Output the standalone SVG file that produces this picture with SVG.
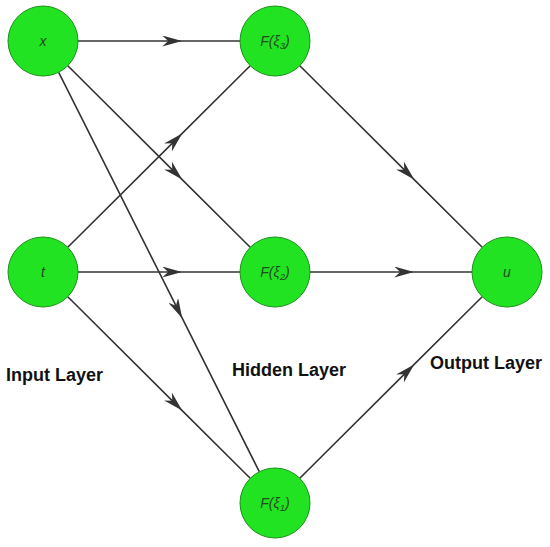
<svg xmlns="http://www.w3.org/2000/svg" width="550" height="547" viewBox="0 0 550 547">
<style>
.node{fill:#22e322;stroke:#1c8f1c;stroke-width:1}
.lbl{font-family:"Liberation Sans",Arial,sans-serif;font-style:italic;font-size:14px;fill:#1f4d1f;text-anchor:middle}
.sub{font-size:9.5px}
.edge{fill:none;stroke:#333;stroke-width:1.6;marker-mid:url(#arr)}
.layer{font-family:"Liberation Sans",Arial,sans-serif;font-weight:bold;font-size:18px;fill:#111}
</style>
<defs>
<marker id="arr" viewBox="0 0 20 11" refX="20" refY="5.5" markerWidth="20" markerHeight="11" markerUnits="userSpaceOnUse" orient="auto">
<path d="M0,0 L20,5.5 L0,11 L6,5.5 z" fill="#333"/>
</marker>
</defs>
<g id="connectors">
<path class="edge" d="M78,41 L182.2,41 L240,41"/>
<path class="edge" d="M67.8,65.7 L182.2,179.6 L250.2,247.3"/>
<path class="edge" d="M58.7,72.3 L182.2,318.2 L259.3,471.7"/>
<path class="edge" d="M67.8,247.3 L182.2,133.4 L250.2,65.7"/>
<path class="edge" d="M78,272 L182.2,272 L240,272"/>
<path class="edge" d="M67.8,296.7 L182.2,410.6 L250.2,478.3"/>
<path class="edge" d="M299.8,65.7 L414.2,179.6 L482.2,247.3"/>
<path class="edge" d="M310,272 L414.2,272 L472,272"/>
<path class="edge" d="M299.8,478.3 L414.2,364.4 L482.2,296.7"/>
</g>
<g id="node-x"><circle class="node" cx="43" cy="41" r="35"/><text class="lbl" x="43" y="46">x</text></g>
<g id="node-F3"><circle class="node" cx="275" cy="41" r="35"/><text class="lbl" x="275" y="46">F(ξ<tspan class="sub" dy="3">3</tspan><tspan dy="-3">)</tspan></text></g>
<g id="node-t"><circle class="node" cx="43" cy="272" r="35"/><text class="lbl" x="43" y="277">t</text></g>
<g id="node-F2"><circle class="node" cx="275" cy="272" r="35"/><text class="lbl" x="275" y="277">F(ξ<tspan class="sub" dy="3">2</tspan><tspan dy="-3">)</tspan></text></g>
<g id="node-u"><circle class="node" cx="507" cy="272" r="35"/><text class="lbl" x="507" y="277">u</text></g>
<g id="node-F1"><circle class="node" cx="275" cy="503" r="35"/><text class="lbl" x="275" y="508">F(ξ<tspan class="sub" dy="3">1</tspan><tspan dy="-3">)</tspan></text></g>
<text class="layer" x="6" y="381">Input Layer</text>
<text class="layer" x="232" y="376">Hidden Layer</text>
<text class="layer" x="430" y="369">Output Layer</text>
</svg>
